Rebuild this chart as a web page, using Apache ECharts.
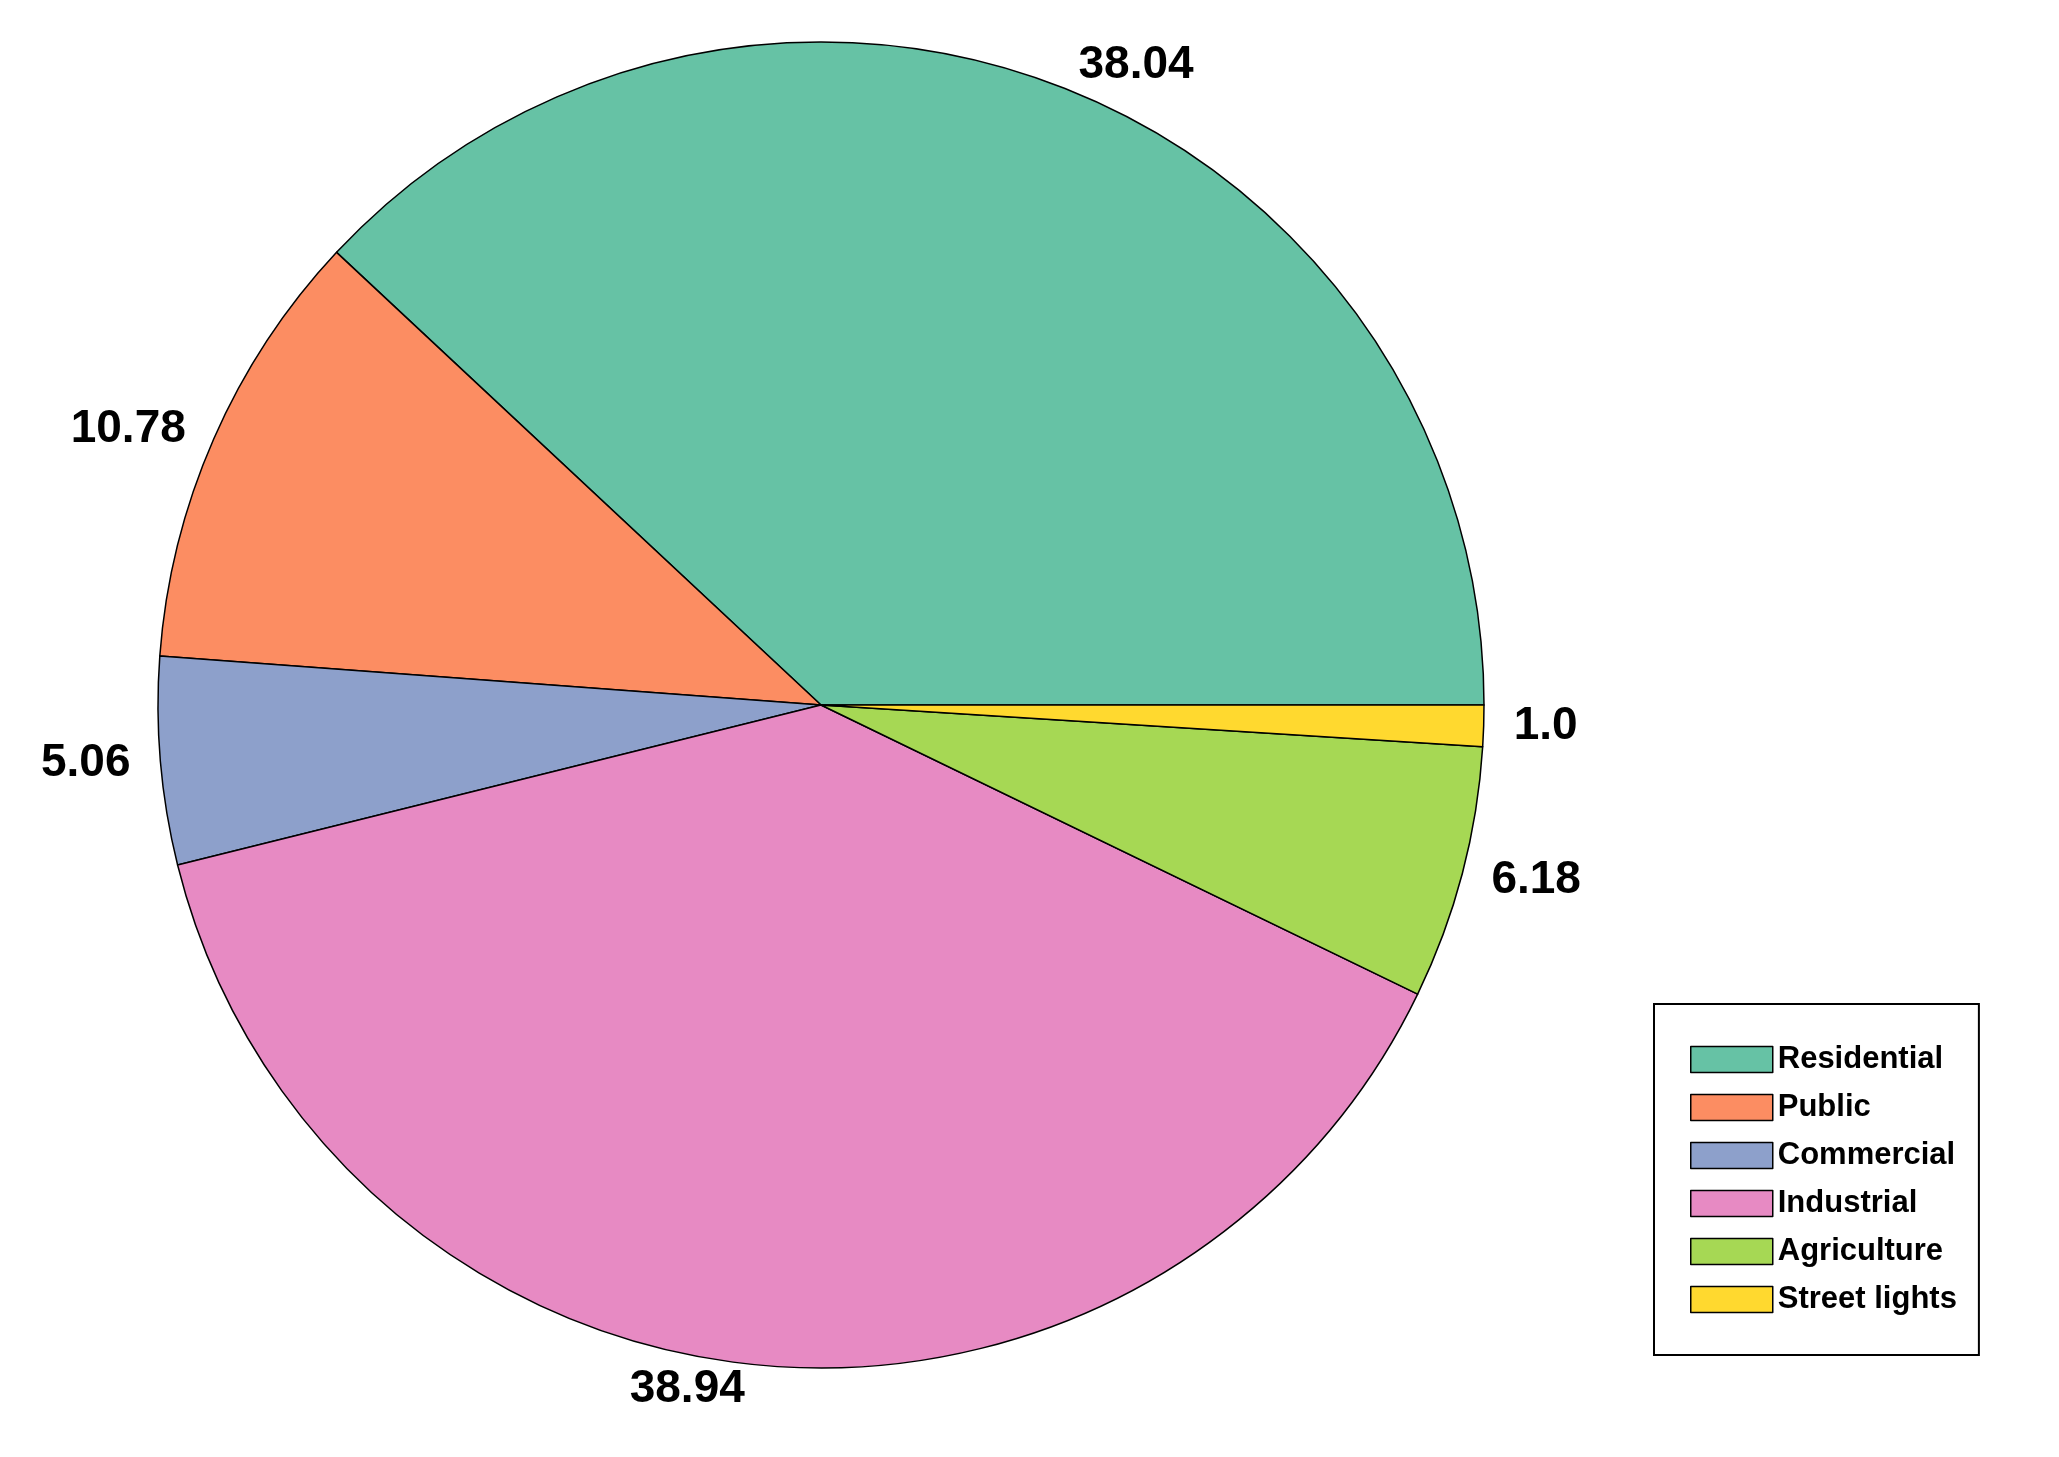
<!DOCTYPE html>
<html>
<head>
<meta charset="utf-8">
<script src="https://cdn.jsdelivr.net/npm/echarts@6/dist/echarts.min.js"></script>
<style>html,body{margin:0;padding:0;background:#fff}#main{width:2059px;height:1457px}</style>
</head>
<body>
<div id="main"></div>
<script>
var categories = ["Residential", "Public", "Commercial", "Industrial", "Agriculture", "Street lights"];
var values = [38.04, 10.78, 5.06, 38.94, 6.18, 1.0];
var labels = ["38.04", "10.78", "5.06", "38.94", "6.18", "1.0"];
var colors = ["#66c2a5", "#fc8d62", "#8da0cb", "#e78ac3", "#a6d854", "#ffd92f"];

var chart = echarts.init(document.getElementById('main'));
var data = [];
for (var i = 0; i < categories.length; i++) {
  data.push({name: categories[i], value: values[i], itemStyle: {color: colors[i]}});
}
var option = {
  backgroundColor: "#fff",
  animation: false,
  legend: {
    orient: "vertical",
    left: 1654,
    top: 1004,
    data: categories,
    icon: "rect",
    itemWidth: 82,
    itemHeight: 26,
    itemGap: 17,
    padding: [40, 22, 40, 36],
    borderColor: "#000",
    borderWidth: 2,
    itemStyle: {borderColor: "#000", borderWidth: 1.5},
    textStyle: {fontFamily: "Liberation Sans, Arial", fontWeight: "bold", fontSize: 31, color: "#000"}
  },
  series: [{
    type: "pie",
    center: [821, 705],
    radius: [0, 663],
    startAngle: 0,
    clockwise: false,
    data: data,
    itemStyle: {borderColor: "#000", borderWidth: 1.5},
    label: {
      show: true,
      position: "outside",
      formatter: function (p) { return labels[p.dataIndex]; },
      fontFamily: "Liberation Sans, Arial",
      fontWeight: "bold",
      fontSize: 46,
      color: "#000"
    },
    labelLine: {show: false, length: 25, length2: 0},
    emphasis: {disabled: true}
  }]
};
chart.setOption(option);
</script>
</body>
</html>
